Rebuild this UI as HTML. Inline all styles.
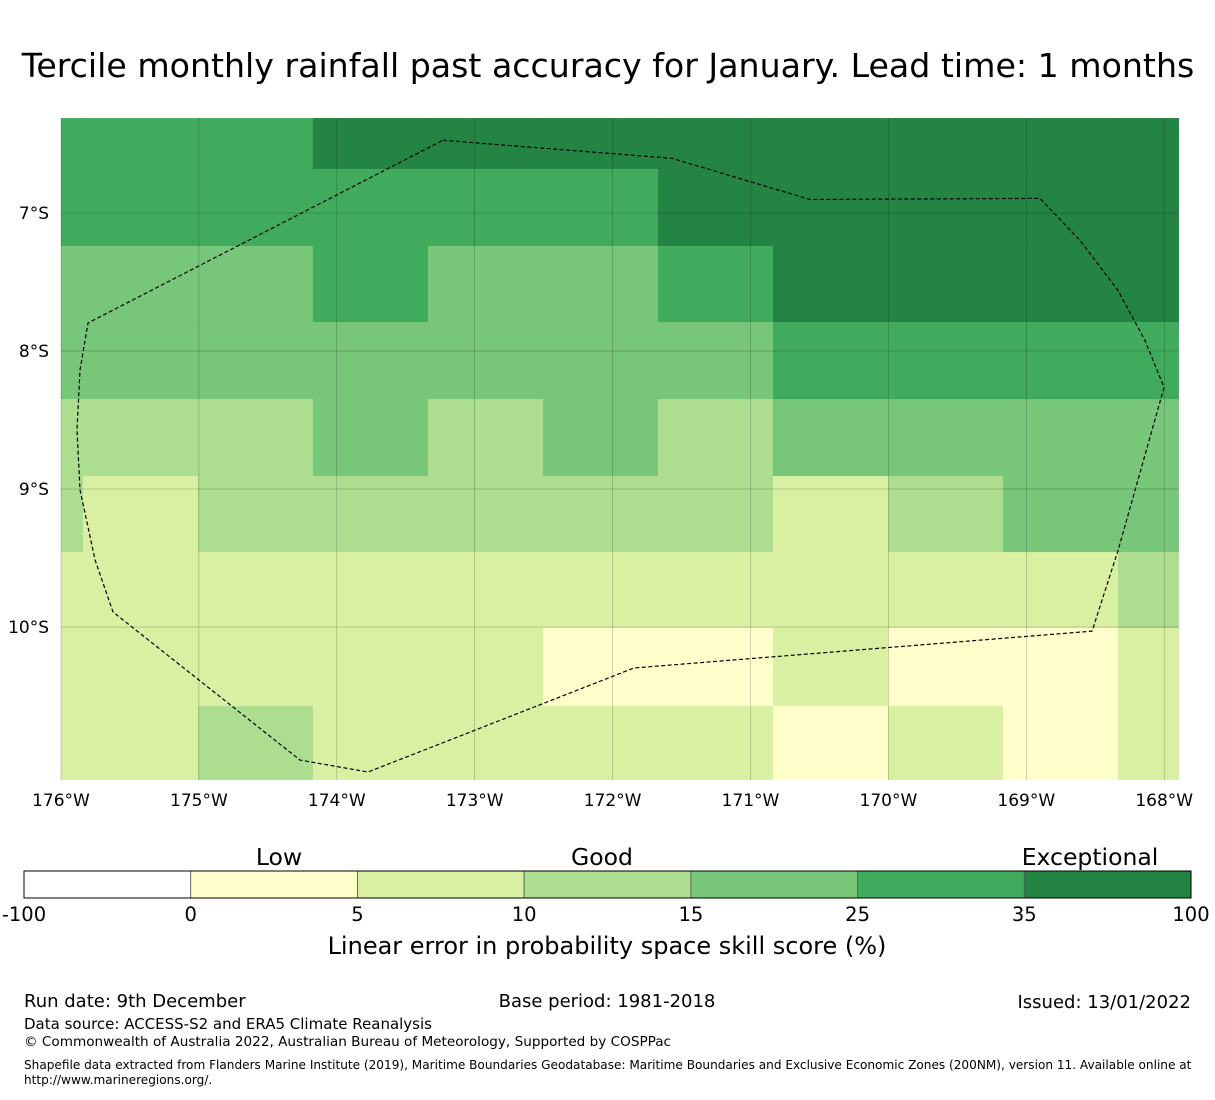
<!DOCTYPE html>
<html><head><meta charset="utf-8">
<style>
body{margin:0;background:#fff;font-family:"Liberation Sans","DejaVu Sans",sans-serif;}
svg text{font-family:"DejaVu Sans","Liberation Sans",sans-serif;}
</style></head>
<body>
<svg id="chart" width="1215" height="1095" viewBox="0 0 1215 1095" xmlns="http://www.w3.org/2000/svg">
<rect width="1215" height="1095" fill="#fff"/>
<text x="608" y="77" text-anchor="middle" font-size="33.2">Tercile monthly rainfall past accuracy for January. Lead time: 1 months</text>
<g id="map"></g>
<g id="cbar"></g>
<text x="279" y="865" text-anchor="middle" font-size="23.5">Low</text>
<text x="602" y="865" text-anchor="middle" font-size="23.5">Good</text>
<text x="1090" y="865" text-anchor="middle" font-size="23.5">Exceptional</text>
<text x="607" y="954" text-anchor="middle" font-size="24">Linear error in probability space skill score (%)</text>
<text x="24" y="1007" font-size="18">Run date: 9th December</text>
<text x="607" y="1007" text-anchor="middle" font-size="18">Base period: 1981-2018</text>
<text x="1191" y="1008" text-anchor="end" font-size="18">Issued: 13/01/2022</text>
<text x="24" y="1029" font-size="15">Data source: ACCESS-S2 and ERA5 Climate Reanalysis</text>
<text x="24" y="1046" font-size="13.6">© Commonwealth of Australia 2022, Australian Bureau of Meteorology, Supported by COSPPac</text>
<text x="24" y="1069" font-size="12.1">Shapefile data extracted from Flanders Marine Institute (2019), Maritime Boundaries Geodatabase: Maritime Boundaries and Exclusive Economic Zones (200NM), version 11. Available online at</text>
<text x="24" y="1084" font-size="12.1">http://www.marineregions.org/.</text>
</svg>
<script>
const colors = ["#ffffff","#ffffcc","#d9f0a3","#addd8e","#78c679","#41ab5d","#238443"];
const binEdges = ["-100","0","5","10","15","25","35","100"];
const lonTicks = [-176,-175,-174,-173,-172,-171,-170,-169,-168];
const latTicks = [-7,-8,-9,-10];
const colEdges = [-176,-175.840,-175.007,-174.173,-173.339,-172.505,-171.671,-170.837,-170.003,-169.169,-168.335,-167.893];
const rowEdges = [-6.312,-6.681,-7.239,-7.79,-8.348,-8.906,-9.457,-10.007,-10.572,-11.108];
const grid = [
 [5,5,5,6,6,6,6,6,6,6,6],
 [5,5,5,5,5,5,6,6,6,6,6],
 [4,4,4,5,4,4,5,6,6,6,6],
 [4,4,4,4,4,4,4,5,5,5,5],
 [3,3,3,4,3,4,3,4,4,4,4],
 [3,2,3,3,3,3,3,2,3,4,4],
 [2,2,2,2,2,2,2,2,2,2,3],
 [2,2,2,2,2,1,1,2,1,1,2],
 [2,2,3,2,2,2,2,1,2,1,2]
];
const eezLon = [-173.230,-171.569,-170.568,-168.901,-168.610,-168.335,-168.139,-168.001,-168.335,-168.523,-171.845,-173.774,-174.267,-175.623,-175.753,-175.862,-175.884,-175.862,-175.804,-173.230];
const eezLat = [-6.473,-6.604,-6.902,-6.894,-7.199,-7.561,-7.924,-8.264,-9.446,-10.03,-10.297,-11.051,-10.964,-9.891,-9.514,-9.007,-8.572,-8.137,-7.797,-6.473];

const X0=61,X1=1179,Y0=118,Y1=780;
const xs = lon => X0 + (lon + 176) * 137.9;
const ys = lat => 213 + (-7 - lat) * 138;
const NS="http://www.w3.org/2000/svg";
const mk=(t,a,p)=>{const e=document.createElementNS(NS,t);for(const k in a)e.setAttribute(k,a[k]);p.appendChild(e);return e;};
const map=document.getElementById('map');
grid.forEach((row,r)=>row.forEach((v,c)=>{
  const x=xs(colEdges[c]), x2=Math.min(X1,xs(colEdges[c+1])), y=ys(rowEdges[r]), y2=ys(rowEdges[r+1]);
  const e=mk('rect',{x:x,y:y,width:x2-x+(c<row.length-1?0.5:0),height:y2-y+(r<grid.length-1?0.5:0),fill:colors[v]},map);
  
  
}));
lonTicks.forEach(l=>{
  const x=xs(l);
  const g=mk('line',{x1:x,x2:x,y1:Y0,y2:Y1,stroke:'#000','stroke-width':0.5,'stroke-opacity':0.35},map);
  
  
  const t=mk('text',{x:x,y:806,'text-anchor':'middle','font-size':17},map);
  t.textContent=Math.abs(l)+'°W';
  
  
});
latTicks.forEach(l=>{
  const y=ys(l);
  const g=mk('line',{x1:X0,x2:X1,y1:y,y2:y,stroke:'#000','stroke-width':0.5,'stroke-opacity':0.35},map);
  
  
  const t=mk('text',{x:49,y:y+6,'text-anchor':'end','font-size':17},map);
  t.textContent=Math.abs(l)+'°S';
  
  
});
const pts=eezLon.map((l,i)=>xs(l)+','+ys(eezLat[i])).join(' ');
const eez=mk('polyline',{points:pts,fill:'none',stroke:'#000','stroke-width':1.2,'stroke-dasharray':'4,2.5'},map);


const cb=document.getElementById('cbar');
const cx0=24,cx1=1191,cy=871,ch=27,w=(cx1-cx0)/colors.length;
colors.forEach((c,i)=>{
  const e=mk('rect',{x:cx0+i*w,y:cy,width:w,height:ch,fill:c,stroke:'#555','stroke-width':0.8},cb);
  
  
});
mk('rect',{x:cx0,y:cy,width:cx1-cx0,height:ch,fill:'none',stroke:'#000','stroke-width':1},cb);
binEdges.forEach((b,i)=>{
  const t=mk('text',{x:cx0+i*w,y:921,'text-anchor':'middle','font-size':19.5},cb);
  t.textContent=b;
  
  
});
</script>
</body></html>
